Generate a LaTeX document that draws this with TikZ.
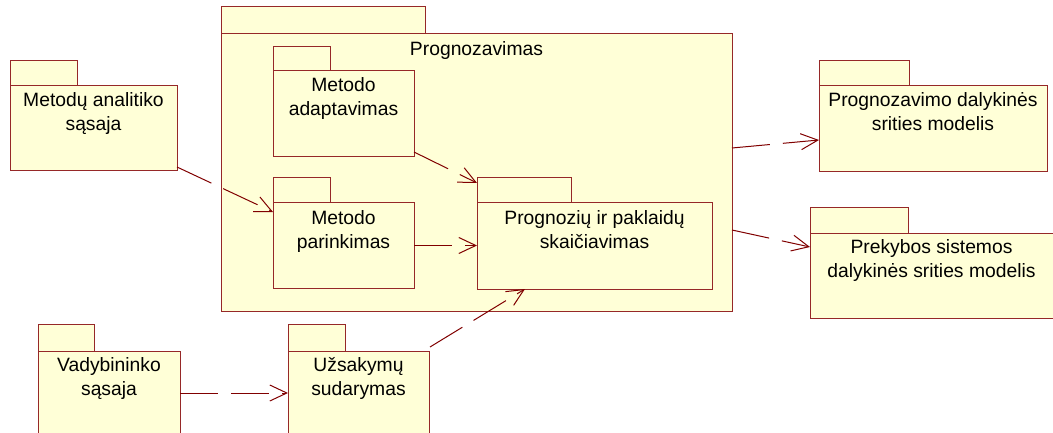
\documentclass[tikz,border=0pt]{standalone}
\usepackage{fontspec}
\setmainfont{Liberation Sans}
\usepackage{xcolor}
\usepackage{tikz}
\usetikzlibrary{arrows.meta, positioning, calc}
\definecolor{pkgfill}{RGB}{255,255,215}
\definecolor{pkgline}{RGB}{150,40,40}
\definecolor{deparrow}{RGB}{128,0,0}

\begin{document}
\begin{tikzpicture}[x=1pt, y=-1pt, font=\fontsize{19.3}{24}\selectfont,
    pkgbody/.style={draw=pkgline, fill=pkgfill, line width=1pt, rectangle,
      anchor=north west, inner sep=0pt, outer sep=0pt},
    pkgtab/.style={pkgbody, anchor=south west},
    pkgname/.style={anchor=base, align=center, inner sep=0pt},
    dep/.style={draw=deparrow, line width=1pt, dash pattern=on 38pt off 13pt,
      -{Straight Barb[length=17pt, width=16pt]}}]
			\useasboundingbox (0,0) rectangle (1053,433);
			\clip (0,0) rectangle (1053,433);
			% the package round the forecasting parts
			\node[pkgbody, minimum width=511pt, minimum height=277pt] (prog) at (221,34) {};
			\node[pkgtab, minimum width=204pt, minimum height=27pt] (prog-tab) at (prog.north west) {};
			\node[pkgname] (prog-t) at ($(prog.north)+(0,22)$) {Prognozavimas};
			\node[pkgbody, minimum width=141pt, minimum height=86pt] (adapt) at (273,71) {};
			\node[pkgtab, minimum width=57pt, minimum height=24pt] (adapt-tab) at (adapt.north west) {};
			\node[pkgname] (adapt-t) at ($(adapt.north)+(0,45)$) {Metodo\\adaptavimas};
			\node[pkgbody, minimum width=141pt, minimum height=85pt] (parin) at (273,203) {};
			\node[pkgtab, minimum width=57pt, minimum height=25pt] (parin-tab) at (parin.north west) {};
			\node[pkgname] (parin-t) at ($(parin.north)+(0,45)$) {Metodo\\parinkimas};
			\node[pkgbody, minimum width=235pt, minimum height=86pt] (progn) at (477,203) {};
			\node[pkgtab, minimum width=94pt, minimum height=25pt] (progn-tab) at (progn.north west) {};
			\node[pkgname] (progn-t) at ($(progn.north)+(0,45)$) {Prognozių ir paklaidų\\skaičiavimas};
			% outside packages
			\node[pkgbody, minimum width=167pt, minimum height=85pt] (ana) at (10,86) {};
			\node[pkgtab, minimum width=67pt, minimum height=25pt] (ana-tab) at (ana.north west) {};
			\node[pkgname] (ana-t) at ($(ana.north)+(0,45)$) {Metodų analitiko\\sąsaja};
			\node[pkgbody, minimum width=228pt, minimum height=86pt] (model1) at (819,86) {};
			\node[pkgtab, minimum width=90pt, minimum height=25pt] (model1-tab) at (model1.north west) {};
			\node[pkgname] (model1-t) at ($(model1.north)+(0,45)$) {Prognozavimo dalykinės\\srities modelis};
			\node[pkgbody, minimum width=243pt, minimum height=85pt] (model2) at (810,233) {};
			\node[pkgtab, minimum width=98pt, minimum height=25pt] (model2-tab) at (model2.north west) {};
			\node[pkgname] (model2-t) at ($(model2.north)+(0,44)$) {Prekybos sistemos\\dalykinės srities modelis};
			\node[pkgbody, minimum width=142pt, minimum height=100pt] (vad) at (38,351) {};
			\node[pkgtab, minimum width=56pt, minimum height=27pt] (vad-tab) at (vad.north west) {};
			\node[pkgname] (vad-t) at ($(vad.north)+(0,44)$) {Vadybininko\\sąsaja};
			\node[pkgbody, minimum width=141pt, minimum height=100pt] (uzs) at (288,351) {};
			\node[pkgtab, minimum width=57pt, minimum height=27pt] (uzs-tab) at (uzs.north west) {};
			\node[pkgname] (uzs-t) at ($(uzs.north)+(0,44)$) {Užsakymų\\sudarymas};
			% dependencies
			\draw[dep] ($(ana.south east)+(0,-4)$) -- ($(parin.north west)+(0,9)$);
			\draw[dep] ($(adapt.south east)+(0,-5)$) -- ($(progn-tab.north west)+(0,5)$);
			\draw[dep] (parin.east) -- (parin.east -| progn.west);
			\draw[dep] ($(uzs.north east)+(1,-4)$) -- ($(progn.south west)+(48,0)$);
			\draw[dep] ($(prog.north east)+(0,114)$) -- ($(model1.north west)+(0,54)$);
			\draw[dep] ($(prog.north east)+(0,196)$) -- ($(model2.north west)+(0,14)$);
			\draw[dep] ($(vad.north east)+(0,42)$) -- ($(uzs.north west)+(0,42)$);
		\end{tikzpicture}
\end{document}
